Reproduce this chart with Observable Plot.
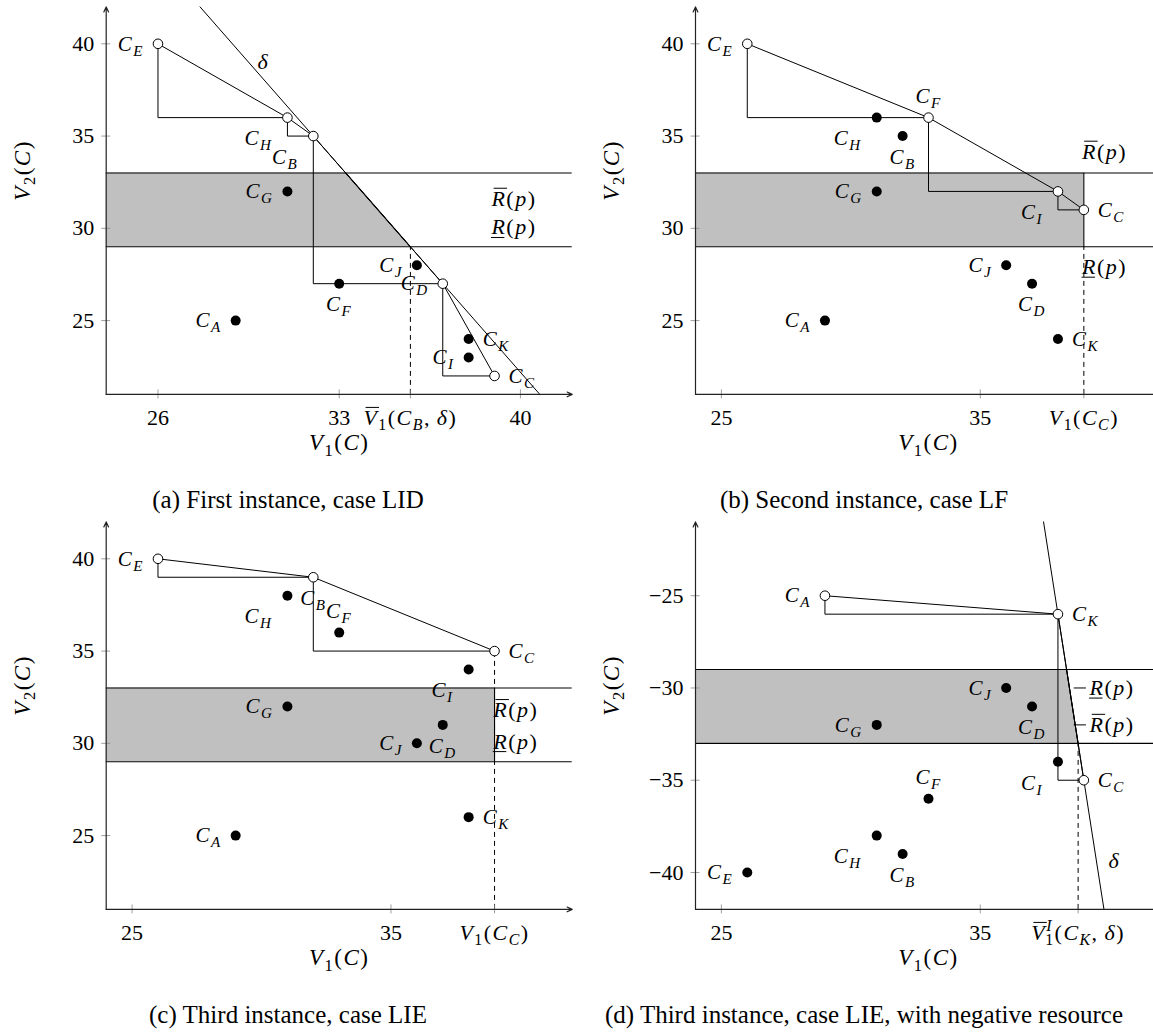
<!DOCTYPE html>
<html><head><meta charset="utf-8">
<script src="https://cdn.jsdelivr.net/npm/d3@7"></script>
<script src="https://cdn.jsdelivr.net/npm/@observablehq/plot@0.6"></script>
<style>
html,body{margin:0;padding:0;background:#fff;width:1153px;height:1034px;overflow:hidden;}
#root{position:relative;width:1153px;height:1034px;overflow:hidden;}
.panel{position:absolute;}
.panel svg{max-width:none !important;overflow:visible;}
.cap{position:absolute;font-family:'Liberation Serif',serif;font-size:25px;line-height:26px;text-align:center;color:#000;white-space:nowrap;}
</style></head>
<body><div id="root"></div>
<script>
// ---------------- data ----------------
const names = ["A","B","C","D","E","F","G","H","I","J","K"];

// (a) First instance, case LID
const aV1 = [29, 32, 39, 37, 26, 33, 31, 31, 38, 36, 38];
const aV2 = [25, 35, 22, 27, 40, 27, 32, 36, 23, 28, 24];
const aFront = ["E", "H", "B", "D", "C"];
const aPlace = ["left","below left","right","left","left","below","left","below left","left","left","right"];
const aDeltaV1 = [27.625, 40.75];
const aDeltaV2 = [42, 21];
const aXTicks = [26, 33, 35.75, 40];
const aXTickText = ["26", "33", "~V_1(C_B,\u2009δ)", "40"];
const aRV1 = [39.75, 39.75];
const aRV2 = [31.6, 30.05];
const aRText = ["~R(p)", "!R(p)"];

// (b) Second instance, case LF
const bV1 = [29, 32, 39, 37, 26, 33, 31, 31, 38, 36, 38];
const bV2 = [25, 35, 31, 27, 40, 36, 32, 36, 32, 28, 24];
const bFront = ["E", "F", "I", "C"];
const bPlace = ["left","below","right","below","left","above","left","below left","below left","left","right"];
const bXTicks = [25, 35, 39];
const bXTickText = ["25", "35", "V_1(C_C)"];
const bRV1 = [39.8, 39.8];
const bRV2 = [34.15, 27.9];
const bRText = ["~R(p)", "!R(p)"];

// (c) Third instance, case LIE
const cV1 = [29, 32, 39, 37, 26, 33, 31, 31, 38, 36, 38];
const cV2 = [25, 39, 35, 31, 40, 36, 32, 38, 34, 30, 26];
const cFront = ["E", "B", "C"];
const cPlace = ["left","below","right","below","left","above","left","below left","below left","left","right"];
const cXTicks = [25, 35, 39];
const cXTickText = ["25", "35", "V_1(C_C)"];
const cRV1 = [38.95, 38.95];
const cRV2 = [31.8, 30.1];
const cRText = ["~R(p)", "!R(p)"];

// (d) Third instance, case LIE, with negative resource
const dV1 = [29, 32, 39, 37, 26, 33, 31, 31, 38, 36, 38];
const dV2 = [-25, -39, -35, -31, -40, -36, -32, -38, -34, -30, -26];
const dFront = ["A", "K", "C"];
const dPlace = ["left","below","right","below","left","above","left","below left","below left","left","right"];
const dDeltaV1 = [37.444, 39.778];
const dDeltaV2 = [-21, -42];
const dXTicks = [25, 35, 38.78];
const dXTickText = ["25", "35", "~V^I_1(C_K,\u2009δ)"];
const dRV1 = [39.22, 39.22];
const dRV2 = [-30, -32];
const dRText = ["!R(p)", "~R(p)"];
const dLeaderV1 = [38.61, 39.08];

const yTicksPos = [25, 30, 35, 40];
const yTicksNeg = [-40, -35, -30, -25];
const bandPos = [29, 33];
const bandNeg = [-33, -29];

// ---------------- helpers ----------------
const svgNS = "http://www.w3.org/2000/svg";
const FONT = "'Liberation Serif', serif";

function onLine(lv1, lv2, v2) { // v1 on a line (given by two points) at level v2
  const t = (v2 - lv2[0]) / (lv2[1] - lv2[0]);
  return lv1[0] + t * (lv1[1] - lv1[0]);
}

function placeOpts(pl) {
  switch (pl) {
    case "left": return {textAnchor: "end", dx: -14, dy: 0};
    case "right": return {textAnchor: "start", dx: 14, dy: 0};
    case "below": return {textAnchor: "middle", dx: 0, dy: 21};
    case "above": return {textAnchor: "middle", dx: 0, dy: -21};
    case "below left": return {textAnchor: "end", dx: -15, dy: 21};
  }
}

function parseMath(s) {
  const ch = Array.from(s), out = [];
  const isIt = c => /[A-Za-zδ]/.test(c);
  for (let k = 0; k < ch.length; k++) {
    const c = ch[k];
    if (c === "_" || c === "^") {
      const kind = c === "_" ? "sub" : "sup";
      const n = ch[++k];
      const prev = out[out.length - 1];
      out.push({t: n, kind, italic: isIt(n), stack: !!(prev && prev.kind === "sup" && kind === "sub")});
    } else if (c === "~" || c === "!") {
      const n = ch[++k];
      out.push({t: n, kind: "base", italic: isIt(n), over: c === "~", under: c === "!"});
    } else {
      out.push({t: c, kind: "base", italic: isIt(c)});
    }
  }
  return out;
}

function mathify(svg) {
  svg.querySelectorAll("text").forEach(el => {
    const s = el.textContent;
    if (!s || !/[_^~!A-Za-zδ]/.test(s)) return;
    const F = parseFloat(getComputedStyle(el).fontSize) || 20;
    const segs = parseMath(s);
    el.textContent = "";
    el.setAttribute("letter-spacing", "1.5");
    let shift = 0, idx = 0, prevSup = null;
    const decos = [];
    for (const sg of segs) {
      const ts = document.createElementNS(svgNS, "tspan");
      ts.textContent = sg.t;
      const target = sg.kind === "sub" ? 0.24 * F : sg.kind === "sup" ? -0.42 * F : 0;
      if (target !== shift) ts.setAttribute("dy", (target - shift).toFixed(2));
      shift = target;
      if (sg.kind !== "base") ts.setAttribute("font-size", (0.72 * F).toFixed(2));
      ts.setAttribute("font-style", sg.italic ? "italic" : "normal");
      el.appendChild(ts);
      if (sg.stack && prevSup) ts.setAttribute("dx", (-prevSup.getComputedTextLength() - 1).toFixed(2));
      prevSup = sg.kind === "sup" ? ts : null;
      if (sg.over || sg.under) decos.push({i: idx, over: !!sg.over});
      idx += sg.t.length;
    }
    for (const d of decos) {
      const a = el.getStartPositionOfChar(d.i), b = el.getEndPositionOfChar(d.i);
      const y = d.over ? a.y - 0.8 * F : a.y + 0.14 * F;
      const off = d.over ? 0.1 * F : -0.02 * F;
      const ln = document.createElementNS(svgNS, "line");
      ln.setAttribute("x1", a.x + off);
      ln.setAttribute("x2", b.x - 1.5 + off);
      ln.setAttribute("y1", y);
      ln.setAttribute("y2", y);
      ln.setAttribute("stroke", "black");
      ln.setAttribute("stroke-width", "1");
      const tr = el.getAttribute("transform");
      if (tr) ln.setAttribute("transform", tr);
      el.parentNode.appendChild(ln);
    }
  });
}

function makePanel(cfg) {
  const [xa, xb] = cfg.xDomain, [ya, yb] = cfg.yDomain;
  const pts = names.map((n, i) => ({name: n, label: "C_" + n, v1: cfg.v1[i], v2: cfg.v2[i], place: cfg.place[i], open: cfg.front.includes(n)}));
  const front = cfg.front.map(n => pts.find(p => p.name === n));
  const band = cfg.band.map((v2, i) => ({v2, v1: cfg.bandEdge[i]}));
  const rLab = cfg.rText.map((t, i) => ({t, v1: cfg.rV1[i], v2: cfg.rV2[i]}));
  const xTickLab = new Map(cfg.xTicks.map((v, i) => [v, cfg.xTickText[i]]));
  const marks = [];

  // shaded feasible band
  marks.push(Plot.areaX(band, {y: "v2", x1: xa, x2: "v1", fill: "#c0c0c0"}));
  marks.push(Plot.line(band, {x: "v1", y: "v2", stroke: "black", strokeWidth: 1.1}));
  marks.push(Plot.ruleY(cfg.band, {x1: xa, x2: xb, stroke: "black", strokeWidth: 1.1}));
  // dashed guide
  marks.push(Plot.ruleX([cfg.dashed], {x: d => d.v1, y1: d => d.from, y2: d => d.to, stroke: "black", strokeWidth: 1, strokeDasharray: "5,4"}));
  // delta line
  if (cfg.delta) {
    const dl = cfg.delta.v1.map((v, i) => ({v1: v, v2: cfg.delta.v2[i]}));
    marks.push(Plot.line(dl, {x: "v1", y: "v2", stroke: "black", strokeWidth: 1}));
    marks.push(Plot.text([cfg.delta.label], {x: d => onLine(cfg.delta.v1, cfg.delta.v2, d), y: d => d, text: () => "δ", dx: cfg.delta.dx, textAnchor: "start", fontSize: 22, fontFamily: FONT, fill: "black"}));
  }
  // staircase and front
  marks.push(Plot.line(front, {x: "v1", y: "v2", curve: "step-before", stroke: "black", strokeWidth: 1}));
  marks.push(Plot.line(front, {x: "v1", y: "v2", stroke: "black", strokeWidth: 1}));
  // leaders
  if (cfg.leaders) {
    marks.push(Plot.link(rLab, {x1: cfg.leaders[0], x2: cfg.leaders[1], y1: "v2", y2: "v2", stroke: "black", strokeWidth: 1}));
  }
  // points
  marks.push(Plot.dot(pts.filter(p => !p.open), {x: "v1", y: "v2", r: 5, fill: "black", stroke: "none"}));
  marks.push(Plot.dot(pts.filter(p => p.open), {x: "v1", y: "v2", r: 4.8, fill: "white", stroke: "black", strokeWidth: 1}));
  // point labels
  for (const pl of ["left", "right", "below", "above", "below left"]) {
    const sub = pts.filter(p => p.place === pl);
    if (!sub.length) continue;
    marks.push(Plot.text(sub, {x: "v1", y: "v2", text: "label", ...placeOpts(pl), fontSize: 21, fontFamily: FONT, fill: "black"}));
  }
  // R labels
  marks.push(Plot.text(rLab, {x: "v1", y: "v2", text: "t", textAnchor: cfg.rAnchor, fontSize: 22, fontFamily: FONT, fill: "black"}));

  // axes: ticks (centred on the axis line) and labels
  marks.push(Plot.axisX(cfg.xTicks, {tickSize: 9, dy: -4.5, tickFormat: () => "", stroke: "#888", strokeWidth: 0.8}));
  marks.push(Plot.axisY(cfg.yTicks, {tickSize: 9, dx: 4.5, tickFormat: () => "", stroke: "#888", strokeWidth: 0.8}));
  marks.push(Plot.axisX(cfg.xTicks, {tickSize: 0, tickPadding: 15, tickFormat: v => xTickLab.get(v), fontSize: 22, fontFamily: FONT, fill: "black"}));
  marks.push(Plot.axisY(cfg.yTicks, {tickSize: 0, tickPadding: 12, tickFormat: d3.format(""), fontSize: 22, fontFamily: FONT, fill: "black"}));
  // axis lines with arrows
  marks.push(Plot.arrow([0], {x1: xa, y1: ya, x2: xb, y2: ya, stroke: "#222", strokeWidth: 1.2, headLength: 7, headAngle: 50}));
  marks.push(Plot.arrow([0], {x1: xa, y1: ya, x2: xa, y2: yb, stroke: "#222", strokeWidth: 1.2, headLength: 7, headAngle: 50}));
  // axis titles
  marks.push(Plot.text(["V_1(C)"], {frameAnchor: "bottom", dy: 56, fontSize: 23, fontFamily: FONT, fill: "black"}));
  marks.push(Plot.text(["V_2(C)"], {frameAnchor: "left", dx: -84, rotate: -90, fontSize: 23, fontFamily: FONT, fill: "black"}));

  const svg = Plot.plot({
    width: cfg.width, height: 480,
    marginLeft: cfg.marginLeft, marginRight: cfg.width - cfg.marginLeft - 466,
    marginTop: 6.4, marginBottom: 86.1,
    x: {domain: cfg.xDomain, label: null},
    y: {domain: cfg.yDomain, label: null},
    style: {background: "transparent", overflow: "visible"},
    marks
  });
  const div = document.createElement("div");
  div.className = "panel";
  div.style.left = cfg.left + "px";
  div.style.top = cfg.top + "px";
  div.appendChild(svg);
  document.getElementById("root").appendChild(div);
  mathify(svg);
}

function caption(text, left, top) {
  const d = document.createElement("div");
  d.className = "cap";
  d.style.left = left + "px";
  d.style.top = top + "px";
  d.style.width = "576px";
  d.textContent = text;
  document.getElementById("root").appendChild(d);
}

// ---------------- panels ----------------
makePanel({
  left: 0, top: 0, width: 576, marginLeft: 105.7,
  xDomain: [24, 42], yDomain: [21, 42],
  v1: aV1, v2: aV2, front: aFront, place: aPlace,
  band: bandPos, bandEdge: bandPos.map(v => onLine(aDeltaV1, aDeltaV2, v)),
  dashed: {v1: aXTicks[2], from: 21, to: 29},
  delta: {v1: aDeltaV1, v2: aDeltaV2, label: 39, dx: 9},
  xTicks: aXTicks, xTickText: aXTickText, yTicks: yTicksPos,
  rV1: aRV1, rV2: aRV2, rText: aRText, rAnchor: "middle"
});
makePanel({
  left: 576, top: 0, width: 590, marginLeft: 119,
  xDomain: [24, 42], yDomain: [21, 42],
  v1: bV1, v2: bV2, front: bFront, place: bPlace,
  band: bandPos, bandEdge: [39, 39],
  dashed: {v1: 39, from: 21, to: 29},
  xTicks: bXTicks, xTickText: bXTickText, yTicks: yTicksPos,
  rV1: bRV1, rV2: bRV2, rText: bRText, rAnchor: "middle"
});
makePanel({
  left: 0, top: 515, width: 576, marginLeft: 105.7,
  xDomain: [24, 42], yDomain: [21, 42],
  v1: cV1, v2: cV2, front: cFront, place: cPlace,
  band: bandPos, bandEdge: [39, 39],
  dashed: {v1: 39, from: 21, to: 35},
  xTicks: cXTicks, xTickText: cXTickText, yTicks: yTicksPos,
  rV1: cRV1, rV2: cRV2, rText: cRText, rAnchor: "start"
});
makePanel({
  left: 576, top: 515, width: 590, marginLeft: 119,
  xDomain: [24, 42], yDomain: [-42, -21],
  v1: dV1, v2: dV2, front: dFront, place: dPlace,
  band: bandNeg, bandEdge: bandNeg.map(v => onLine(dDeltaV1, dDeltaV2, v)),
  dashed: {v1: dXTicks[2], from: -42, to: -33},
  delta: {v1: dDeltaV1, v2: dDeltaV2, label: -39.4, dx: 12},
  xTicks: dXTicks, xTickText: dXTickText, yTicks: yTicksNeg,
  rV1: dRV1, rV2: dRV2, rText: dRText, rAnchor: "start", leaders: dLeaderV1
});

caption("(a) First instance, case LID", 0, 487);
caption("(b) Second instance, case LF", 576, 487);
caption("(c) Third instance, case LIE", 0, 1002);
caption("(d) Third instance, case LIE, with negative resource", 576, 1002);
</script>
</body></html>
